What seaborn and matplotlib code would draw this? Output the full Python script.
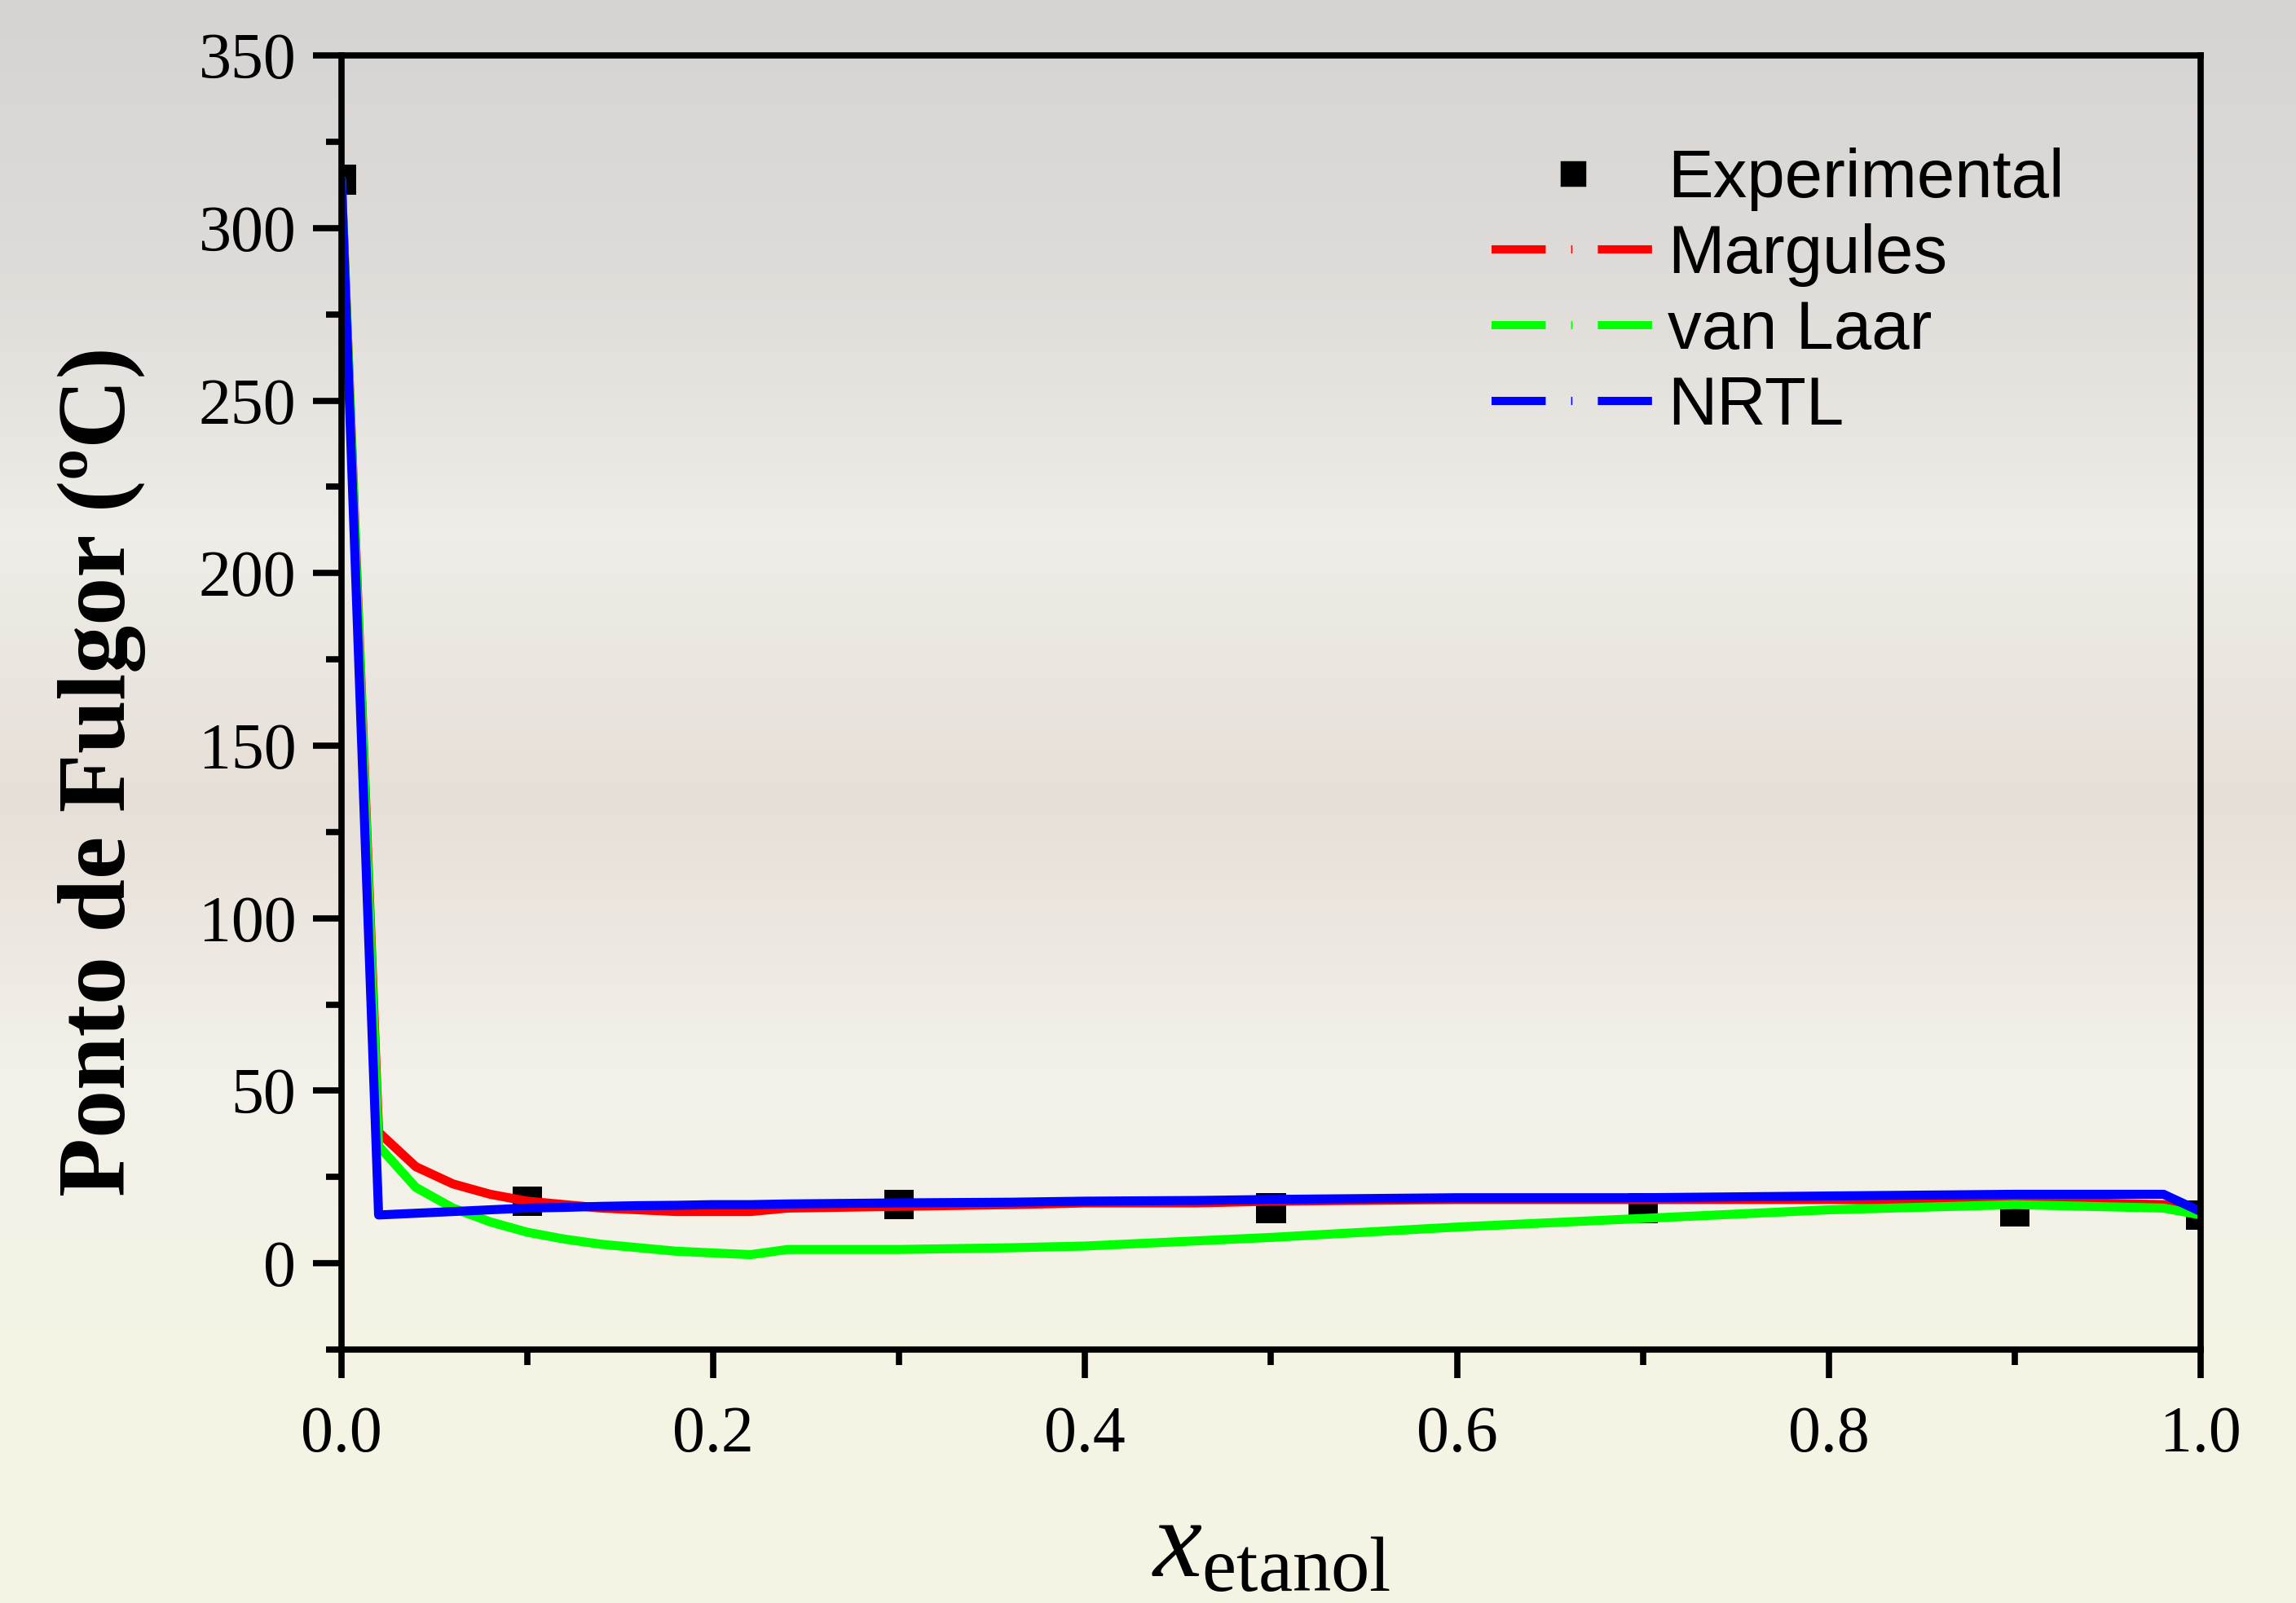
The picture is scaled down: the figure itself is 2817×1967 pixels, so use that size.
import numpy as np
import pandas as pd
import matplotlib
matplotlib.use("Agg")
import matplotlib.pyplot as plt
from matplotlib.colors import LinearSegmentedColormap
from matplotlib.lines import Line2D
from matplotlib.ticker import MultipleLocator, FormatStrFormatter
import seaborn as sns

# ----------------------------------------
# Data
# ----------------------------------------

x_exp = [0.0, 0.1, 0.3, 0.5, 0.7, 0.9, 1.0]
y_exp = [314, 18, 17, 16, 16, 15, 14]

x_model = [0.0, 0.02, 0.04, 0.06, 0.08, 0.10, 0.12, 0.14, 0.16, 0.18, 0.20,
           0.22, 0.24, 0.30, 0.36, 0.40, 0.46, 0.50, 0.60, 0.70, 0.80, 0.90,
           0.98, 1.0]
margules = [314, 38, 28, 23, 20, 18, 17, 16, 15.5, 15, 15,
            15, 16, 16.5, 17, 17.5, 17.5, 18, 18.5, 18.5, 18.5, 18,
            17, 15]
van_laar = [314, 34, 22, 16, 12, 9, 7, 5.5, 4.5, 3.5, 3,
            2.5, 4, 4, 4.5, 5, 6.5, 7.5, 10.5, 13, 15.5, 17,
            16, 14]
nrtl = [314, 14, 14.5, 15, 15.5, 16, 16.2, 16.5, 16.7, 16.8, 17,
        17, 17.2, 17.5, 17.7, 18, 18.2, 18.5, 19, 19, 19.5, 20,
        20, 15]

models = pd.DataFrame({
    "x": x_model * 3,
    "y": margules + van_laar + nrtl,
    "modelo": ["Margules"] * len(x_model) + ["van Laar"] * len(x_model) + ["NRTL"] * len(x_model),
})
exp = pd.DataFrame({"x": x_exp, "y": y_exp})

colors = {"Margules": "#ff0000", "van Laar": "#00ff00", "NRTL": "#0000ff"}

# ----------------------------------------
# Figure
# ----------------------------------------

sns.set_theme(style="ticks")
plt.rcParams["font.family"] = ["Liberation Serif", "DejaVu Serif"]
plt.rcParams["mathtext.fontset"] = "custom"
plt.rcParams["mathtext.rm"] = "Liberation Serif"
plt.rcParams["mathtext.it"] = "Liberation Serif:italic"
plt.rcParams["text.color"] = "black"
plt.rcParams["axes.labelcolor"] = "black"
plt.rcParams["axes.edgecolor"] = "black"
plt.rcParams["xtick.color"] = "black"
plt.rcParams["ytick.color"] = "black"

fig = plt.figure(figsize=(2817 / 250, 1967 / 250), dpi=250)

# soft background wash behind the plot
bg = fig.add_axes([0, 0, 1, 1], zorder=-10)
wash = LinearSegmentedColormap.from_list(
    "wash", ["#d6d4d3", "#dedbd8", "#efede8", "#e6dfd7", "#f3f0ea", "#f5f3e4", "#f5f4e3"])
bg.imshow(np.linspace(0, 1, 256).reshape(-1, 1), aspect="auto", cmap=wash,
          extent=[0, 1, 0, 1], origin="upper")
bg.axis("off")

ax = fig.add_axes([0.1487, 0.1581, 0.8098, 0.8073])
ax.patch.set_alpha(0)

sns.lineplot(data=models, x="x", y="y", hue="modelo", palette=colors,
             sort=False, linewidth=3.2, ax=ax, legend=False)
sns.scatterplot(data=exp, x="x", y="y", marker="s", s=110, color="black",
                edgecolor="none", ax=ax, zorder=1, legend=False)

ax.set_xlim(0, 1)
ax.set_ylim(-25, 350)
ax.xaxis.set_major_locator(MultipleLocator(0.2))
ax.xaxis.set_minor_locator(MultipleLocator(0.1))
ax.yaxis.set_major_locator(MultipleLocator(50))
ax.yaxis.set_minor_locator(MultipleLocator(25))
ax.xaxis.set_major_formatter(FormatStrFormatter("%.1f"))

for s in ax.spines.values():
    s.set_linewidth(2.2)
ax.tick_params(which="major", length=10, width=2.2, labelsize=23, pad=6,
               direction="out", top=False, right=False)
ax.tick_params(which="minor", length=5.5, width=2.2, direction="out",
               top=False, right=False)
ax.tick_params(axis="x", which="major", pad=10)

ax.set_xlabel(r"$x_{\mathrm{etanol}}$", fontsize=39, labelpad=12)
ax.set_ylabel("Ponto de Fulgor (ºC)", fontsize=34, fontweight="bold")
ax.yaxis.set_label_coords(-0.105, 0.447)

# legend in the Origin style (dash - dot - dash)
handles = [Line2D([], [], linestyle="none", marker="s", markersize=8, color="black")]
labels = ["Experimental"]
for name in ["Margules", "van Laar", "NRTL"]:
    handles.append(Line2D([], [], color=colors[name], linewidth=2.9,
                          dashes=(6.6, 3.1, 0.15, 3.1), dash_capstyle="butt"))
    labels.append(name)
leg = ax.legend(handles, labels, loc="upper right", bbox_to_anchor=(0.945, 0.955),
                frameon=False, borderpad=0, prop={"family": "Liberation Sans", "size": 24},
                handlelength=2.4, handletextpad=0.2, labelspacing=0.18)

fig.savefig("out.png", dpi=250)
plt.close(fig)
